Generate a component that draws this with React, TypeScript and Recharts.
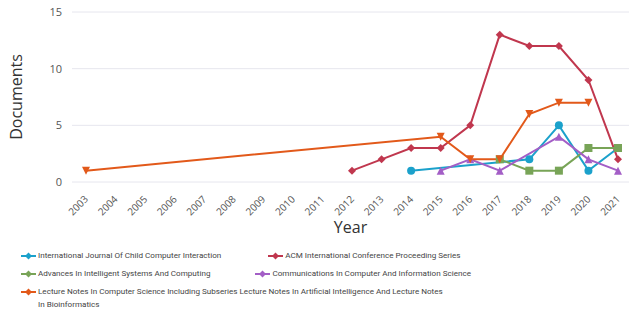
import React from "react";
import { LineChart, Line, XAxis, YAxis, CartesianGrid } from "recharts";

const years = ["2003","2004","2005","2006","2007","2008","2009","2010","2011","2012","2013","2014","2015","2016","2017","2018","2019","2020","2021"];

const childComputer = [null,null,null,null,null,null,null,null,null,null,null,1,null,null,null,2,5,1,3];
const acmProceedings = [null,null,null,null,null,null,null,null,null,1,2,3,3,5,13,12,12,9,2];
const advancesIntelligent = [null,null,null,null,null,null,null,null,null,null,null,null,null,null,2,1,1,3,3];
const communications = [null,null,null,null,null,null,null,null,null,null,null,null,1,2,1,null,4,2,1];
const lectureNotes = [1,null,null,null,null,null,null,null,null,null,null,null,4,2,2,6,7,7,null];

const yTicks = [0, 5, 10, 15];

const series = [
  { key: "child", name: "International Journal Of Child Computer Interaction", values: childComputer, color: "#1ba1cb", shape: "circle" },
  { key: "acm", name: "ACM International Conference Proceeding Series", values: acmProceedings, color: "#c0374e", shape: "diamond" },
  { key: "adv", name: "Advances In Intelligent Systems And Computing", values: advancesIntelligent, color: "#78a457", shape: "square" },
  { key: "comm", name: "Communications In Computer And Information Science", values: communications, color: "#a35ec6", shape: "triangle" },
  { key: "lncs", name: "Lecture Notes In Computer Science Including Subseries Lecture Notes In Artificial Intelligence And Lecture Notes In Bioinformatics", values: lectureNotes, color: "#e2591a", shape: "triangleDown" },
];

const data = years.map((y, i) => {
  const row: any = { year: y };
  series.forEach((s) => (row[s.key] = s.values[i]));
  return row;
});

const Marker = ({ shape, x, y, color, size = 4 }: any) => {
  const r = size;
  if (shape === "circle") return <circle cx={x} cy={y} r={r} fill={color} />;
  if (shape === "square") return <rect x={x - r} y={y - r} width={r * 2} height={r * 2} fill={color} />;
  if (shape === "diamond")
    return <path d={`M${x},${y - r} L${x + r},${y} L${x},${y + r} L${x - r},${y} Z`} fill={color} />;
  if (shape === "triangle")
    return <path d={`M${x},${y - r} L${x + r},${y + r} L${x - r},${y + r} Z`} fill={color} />;
  return <path d={`M${x - r},${y - r} L${x + r},${y - r} L${x},${y + r} Z`} fill={color} />;
};

const makeDot = (shape: string, color: string) => (props: any) => {
  const { cx, cy, index, value } = props;
  if (cx == null || cy == null || value == null) return <g key={index} />;
  return (
    <g key={index}>
      <Marker shape={shape} x={cx} y={cy} color={color} />
    </g>
  );
};

const XTick = ({ x, y, payload }: any) => (
  <text
    x={x}
    y={y + 7}
    transform={`rotate(-45 ${x} ${y + 7})`}
    textAnchor="end"
    fontSize={10}
    fill="#555"
    dy={4}
  >
    {payload.value}
  </text>
);

const FONT = "'Open Sans', 'DejaVu Sans', sans-serif";
const LEGEND_FONT = "Roboto, 'Open Sans', sans-serif";

const LegendItem = ({ s }: any) => (
  <div style={{ display: "flex", alignItems: "flex-start" }}>
    <svg width={15} height={10} style={{ marginTop: 2, flexShrink: 0 }}>
      <line x1={0} y1={5} x2={15} y2={5} stroke={s.color} strokeWidth={2} />
      <Marker shape="diamond" x={7.5} y={5} color={s.color} size={3.5} />
    </svg>
    <span style={{ marginLeft: 2, lineHeight: "13px" }}>{s.name}</span>
  </div>
);

export default function App() {
  return (
    <div style={{ position: "absolute", left: 0, top: 0, width: 629, height: 311, background: "#fff", fontFamily: FONT, overflow: "hidden" }}>
      <LineChart width={629} height={245} data={data} margin={{ top: 12, right: 0, bottom: 0, left: 0 }}>
        <CartesianGrid vertical={false} stroke="#e6e6ee" />
        <XAxis
          dataKey="year"
          interval={0}
          tick={<XTick />}
          tickLine={false}
          axisLine={false}
          padding={{ left: 14, right: 11 }}
          height={63}
          label={{ value: "Year", position: "insideBottom", offset: 12, fontSize: 16, fill: "#333", fontFamily: FONT }}
        />
        <YAxis
          domain={[0, 15]}
          ticks={yTicks}
          width={72}
          tickLine={false}
          axisLine={false}
          tickSize={0}
          tickMargin={10}
          tick={{ fontSize: 11, fill: "#555" }}
          label={{ value: "Documents", angle: -90, position: "insideLeft", offset: 16, fontSize: 16, fill: "#333", fontFamily: FONT, style: { textAnchor: "middle" } }}
        />
        {series.map((s) => (
          <Line
            key={s.key}
            dataKey={s.key}
            name={s.name}
            stroke={s.color}
            strokeWidth={2}
            type="linear"
            connectNulls
            dot={makeDot(s.shape, s.color)}
            activeDot={false}
            isAnimationActive={false}
          />
        ))}
      </LineChart>
      <div style={{ position: "absolute", left: 21, top: 249, fontSize: 8.1, color: "#444", width: 580, fontFamily: LEGEND_FONT }}>
        <div style={{ display: "flex", height: 18 }}>
          <LegendItem s={series[0]} />
          <div style={{ width: 47 }} />
          <LegendItem s={series[1]} />
        </div>
        <div style={{ display: "flex", height: 18 }}>
          <LegendItem s={series[2]} />
          <div style={{ width: 45 }} />
          <LegendItem s={series[3]} />
        </div>
        <div style={{ display: "flex", width: 430 }}>
          <LegendItem s={series[4]} />
        </div>
      </div>
    </div>
  );
}
